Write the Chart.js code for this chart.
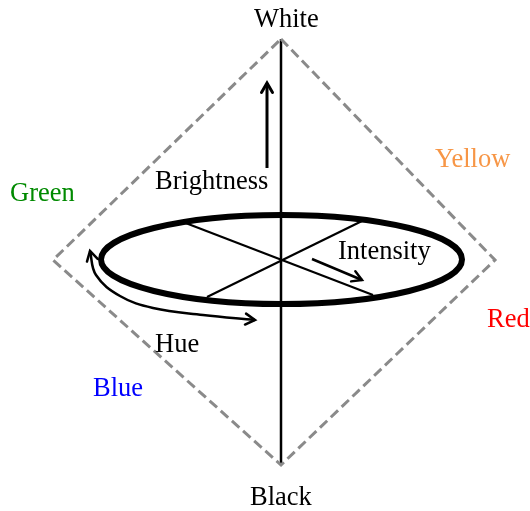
<!DOCTYPE html>
<html>
<head>
<meta charset="utf-8">
<script src="https://cdn.jsdelivr.net/npm/chart.js@4/dist/chart.umd.min.js"></script>
<style>
  html, body { margin: 0; padding: 0; background: #fff; }
  canvas { display: block; }
</style>
</head>
<body>
<canvas id="hsiChart" width="530" height="511"></canvas>
<script>
// diagram data, in picture units (x to the right, y downwards)
const diamondX = [281, 495, 281, 53, 281];
const diamondY = [39, 260, 465, 260, 39];

const axisX = [281, 281];
const axisY = [39, 465];

const crossAX = [183, 373];
const crossAY = [222, 295];
const crossBX = [362, 207];
const crossBY = [221, 297];

const intensityX = [312, 362];
const intensityY = [259, 280];

const brightnessX = [267, 267];
const brightnessY = [168, 83];

const hueX = [255, 203, 153, 120, 96, 90];
const hueY = [320, 315, 308, 296, 275, 251];

const ringCenter = [281.5, 259.5];
const ringRadius = [180.5, 44.5];

const labelText = ["White", "Black", "Green", "Yellow", "Red", "Blue", "Brightness", "Intensity", "Hue"];
const labelX = [254, 250, 10, 435, 487, 93, 155, 338, 155];
const labelY = [27, 505, 201, 167, 327, 396, 189, 259, 352];
const labelColor = ["#000", "#000", "#008a00", "#f79646", "#ff0000", "#0000ff", "#000", "#000", "#000"];

function pts(xs, ys) {
    return xs.map(function (x, i) { return { x: x, y: ys[i] }; });
}

function lineSet(xs, ys, width, extra) {
    return Object.assign({
        data: pts(xs, ys),
        showLine: true,
        borderColor: "#000",
        borderWidth: width,
        pointRadius: 0,
        pointHoverRadius: 0,
        fill: false,
        tension: 0,
    }, extra || {});
}

// ellipse ring, drawn through the scales
const ringPlugin = {
    id: "ring",
    afterDatasetsDraw(chart) {
        const sx = chart.scales.x, sy = chart.scales.y;
        const cx = sx.getPixelForValue(ringCenter[0]);
        const cy = sy.getPixelForValue(ringCenter[1]);
        const rx = Math.abs(sx.getPixelForValue(ringCenter[0] + ringRadius[0]) - cx);
        const ry = Math.abs(sy.getPixelForValue(ringCenter[1] + ringRadius[1]) - cy);
        const ctx = chart.ctx;
        ctx.save();
        ctx.beginPath();
        ctx.ellipse(cx, cy, rx, ry, 0, 0, Math.PI * 2);
        ctx.lineWidth = 6;
        ctx.strokeStyle = "#000";
        ctx.stroke();
        ctx.restore();
    }
};

// open chevron heads at the ends of arrow datasets
function chevron(ctx, tip, from, len) {
    const a = Math.atan2(tip.y - from.y, tip.x - from.x);
    const spread = Math.PI / 6;
    ctx.beginPath();
    ctx.moveTo(tip.x - len * Math.cos(a - spread), tip.y - len * Math.sin(a - spread));
    ctx.lineTo(tip.x, tip.y);
    ctx.lineTo(tip.x - len * Math.cos(a + spread), tip.y - len * Math.sin(a + spread));
    ctx.stroke();
}

const arrowPlugin = {
    id: "arrows",
    afterDatasetsDraw(chart) {
        const ctx = chart.ctx;
        chart.data.datasets.forEach(function (ds, i) {
            if (!ds.arrowEnds) return;
            const pts = chart.getDatasetMeta(i).data;
            const n = pts.length;
            ctx.save();
            ctx.strokeStyle = "#000";
            ctx.lineWidth = ds.borderWidth;
            ctx.lineCap = "round";
            ctx.lineJoin = "miter";
            if (ds.arrowEnds.indexOf("end") >= 0) {
                const last = pts[n - 1];
                const from = (ds.tension && last.cp1x !== undefined) ? { x: last.cp1x, y: last.cp1y } : pts[n - 2];
                chevron(ctx, last, from, 11);
            }
            if (ds.arrowEnds.indexOf("start") >= 0) {
                const first = pts[0];
                const from = (ds.tension && first.cp2x !== undefined) ? { x: first.cp2x, y: first.cp2y } : pts[1];
                chevron(ctx, first, from, 11);
            }
            ctx.restore();
        });
    }
};

const labelPlugin = {
    id: "labels",
    afterDraw(chart) {
        const sx = chart.scales.x, sy = chart.scales.y;
        const ctx = chart.ctx;
        ctx.save();
        ctx.font = "26.5px 'Liberation Serif', 'Times New Roman', serif";
        ctx.textAlign = "left";
        ctx.textBaseline = "alphabetic";
        labelText.forEach(function (t, i) {
            ctx.fillStyle = labelColor[i];
            ctx.fillText(t, sx.getPixelForValue(labelX[i]), sy.getPixelForValue(labelY[i]));
        });
        ctx.restore();
    }
};

document.addEventListener("DOMContentLoaded", function () {
    const hsiChart = new Chart(document.getElementById("hsiChart"), {
        type: "scatter",
        data: {
            datasets: [
                lineSet(diamondX, diamondY, 3, { borderColor: "#8a8a8a", borderDash: [10, 5] }),
                lineSet(axisX, axisY, 2.5),
                lineSet(crossAX, crossAY, 2.2),
                lineSet(crossBX, crossBY, 2.2),
                lineSet(intensityX, intensityY, 2.5, { arrowEnds: ["end"] }),
                lineSet(brightnessX, brightnessY, 3, { arrowEnds: ["end"] }),
                lineSet(hueX, hueY, 2.5, { tension: 0.4, arrowEnds: ["start", "end"] }),
            ],
        },
        options: {
            responsive: false,
            animation: false,
            events: [],
            layout: { padding: 0 },
            plugins: {
                legend: { display: false },
                tooltip: { enabled: false },
            },
            scales: {
                x: { type: "linear", min: 0, max: 530, display: false },
                y: { type: "linear", min: 0, max: 511, reverse: true, display: false },
            },
        },
        plugins: [ringPlugin, arrowPlugin, labelPlugin],
    });
});
</script>
</body>
</html>
